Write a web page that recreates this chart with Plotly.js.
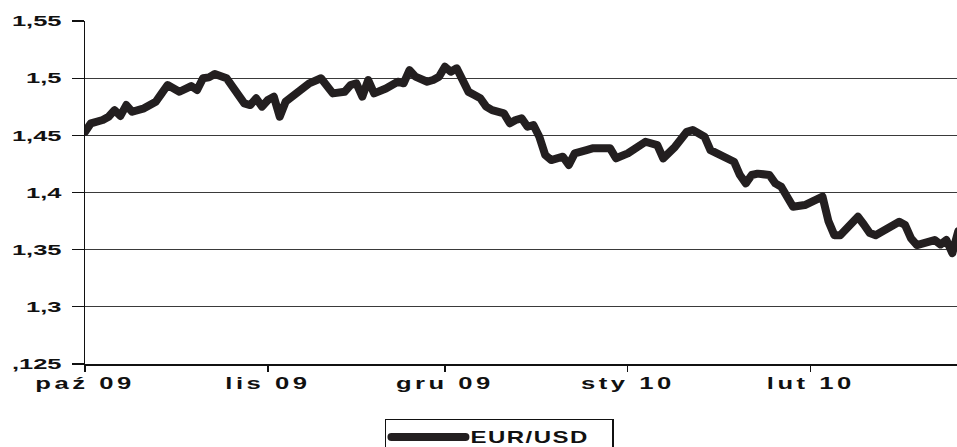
<!DOCTYPE html>
<html>
<head>
<meta charset="utf-8">
<script src="https://cdn.plot.ly/plotly-3.0.1.min.js"></script>
<style>
  html, body { margin: 0; padding: 0; background: #fff; }
  #chart { width: 957px; height: 447px; }
  .xtick text { letter-spacing: 2.2px; }
  .legendtext { letter-spacing: 1px; }
  .scatterlayer .js-line { stroke-linejoin: round; stroke-linecap: round; }
  .legendlines path { stroke-linecap: round; }
</style>
</head>
<body>
<div id="chart"></div>
<script>
// EUR/USD daily rate, Oct 2009 - Feb 2010
const dates = [
  "2009-10-01","2009-10-02","2009-10-04","2009-10-05","2009-10-06","2009-10-07","2009-10-08","2009-10-09",
  "2009-10-11","2009-10-13","2009-10-14","2009-10-15","2009-10-17","2009-10-18","2009-10-19","2009-10-20",
  "2009-10-21","2009-10-22","2009-10-23","2009-10-25","2009-10-26","2009-10-27","2009-10-28","2009-10-29",
  "2009-10-30","2009-10-31","2009-11-01","2009-11-02","2009-11-03","2009-11-04","2009-11-05","2009-11-06",
  "2009-11-08","2009-11-10","2009-11-11","2009-11-12","2009-11-14","2009-11-15","2009-11-16","2009-11-17",
  "2009-11-18","2009-11-19","2009-11-21","2009-11-22","2009-11-23","2009-11-24","2009-11-25","2009-11-26",
  "2009-11-28","2009-11-29","2009-11-30","2009-12-01","2009-12-02","2009-12-03","2009-12-04","2009-12-05",
  "2009-12-06","2009-12-07","2009-12-08","2009-12-09","2009-12-11","2009-12-12","2009-12-13","2009-12-14",
  "2009-12-15","2009-12-16","2009-12-17","2009-12-18","2009-12-19","2009-12-20","2009-12-21","2009-12-22",
  "2009-12-23","2009-12-25","2009-12-26","2009-12-29","2009-12-30","2010-01-01","2010-01-03","2010-01-04",
  "2010-01-06","2010-01-07","2010-01-09","2010-01-11","2010-01-12","2010-01-14","2010-01-15","2010-01-17",
  "2010-01-19","2010-01-20","2010-01-21","2010-01-22","2010-01-23","2010-01-25","2010-01-26","2010-01-27",
  "2010-01-28","2010-01-29","2010-01-31","2010-02-01","2010-02-02","2010-02-03","2010-02-04","2010-02-05",
  "2010-02-06","2010-02-07","2010-02-09","2010-02-10","2010-02-11","2010-02-12","2010-02-14","2010-02-16",
  "2010-02-17","2010-02-18","2010-02-19","2010-02-20","2010-02-21","2010-02-22","2010-02-23","2010-02-24",
  "2010-02-25","2010-02-26"
];
const eurusd = [
  1.453,1.4605,1.4634,1.4663,1.472,1.467,1.4765,1.4706,
  1.4736,1.4794,1.4867,1.494,1.4881,1.491,1.4931,1.4896,
  1.4999,1.5007,1.5036,1.4999,1.4925,1.4867,1.478,1.4765,
  1.4824,1.4751,1.4809,1.4838,1.4663,1.4794,1.4838,1.4867,
  1.4955,1.4999,1.494,1.4867,1.4881,1.494,1.4955,1.4838,
  1.4984,1.4867,1.491,1.494,1.4969,1.4955,1.5071,1.5013,
  1.4969,1.4984,1.5013,1.51,1.5056,1.5086,1.499,1.488,
  1.4852,1.4824,1.4751,1.472,1.4692,1.4605,1.4634,1.4649,
  1.4575,1.459,1.4488,1.4328,1.4284,1.4299,1.4313,1.424,
  1.4342,1.4371,1.4386,1.4386,1.4299,1.4342,1.4415,1.4444,
  1.4415,1.4299,1.44,1.4531,1.4546,1.4488,1.4371,1.4328,
  1.4269,1.4153,1.408,1.4153,1.4165,1.4153,1.408,1.405,
  1.3963,1.3875,1.389,1.3919,1.3945,1.3963,1.375,1.3627,
  1.3627,1.3686,1.3788,1.372,1.3645,1.3627,1.3686,1.3744,
  1.3715,1.3599,1.354,1.3555,1.3565,1.3584,1.3545,1.3584,
  1.347,1.366
];
const seriesName = "EUR/USD";
const xTickVals = ["2009-10-01","2009-11-01","2009-12-01","2010-01-01","2010-02-01"];
const xTickText = ["paź 09","lis 09","gru 09","sty 10","lut 10"];
const yTickVals = [1.25,1.3,1.35,1.4,1.45,1.5,1.55];
const yTickText = [",125","1,3","1,35","1,4","1,45","1,5","1,55"];

const trace = {
  type: "scatter", mode: "lines", name: seriesName,
  x: dates, y: eurusd,
  line: { color: "#231f20", width: 8 },
  showlegend: true, hoverinfo: "skip"
};

const layout = {
  width: 957, height: 447,
  margin: { l: 85, r: 0, t: 21, b: 83, pad: 0, autoexpand: false },
  paper_bgcolor: "#ffffff", plot_bgcolor: "#ffffff",
  showlegend: true,
  font: { family: "Liberation Sans, Arial, sans-serif", color: "#111" },
  xaxis: {
    type: "date",
    range: ["2009-10-01", "2010-02-25 19:00"],
    tickmode: "array", tickvals: xTickVals, ticktext: xTickText,
    ticks: "outside", ticklen: 6, tickwidth: 1.2, tickcolor: "#111",
    showline: true, linecolor: "#111", linewidth: 1.5,
    showgrid: false, zeroline: false,
    tickfont: { size: 16, weight: "bold", color: "#111" },
    ticklabelstandoff: -2
  },
  yaxis: {
    range: [1.25, 1.55],
    tickmode: "array", tickvals: yTickVals, ticktext: yTickText,
    ticks: "outside", ticklen: 12, tickwidth: 1.2, tickcolor: "#111",
    showline: true, linecolor: "#111", linewidth: 1.5,
    showgrid: true, gridcolor: "#3a3a3a", gridwidth: 1.2,
    zeroline: false,
    tickfont: { size: 15, weight: "bold", color: "#111" },
    ticklabelstandoff: 7
  },
  legend: {
    orientation: "h",
    x: 0.344, xanchor: "left", xref: "paper",
    y: -0.159, yanchor: "top", yref: "paper",
    bordercolor: "#111", borderwidth: 1.5, bgcolor: "#fff",
    font: { size: 16, weight: "bold", color: "#111" },
    itemwidth: 74,
    entrywidth: 137, entrywidthmode: "pixels"
  }
};

function stretch(sel, sx) {
  document.querySelectorAll(sel).forEach(function (t) {
    const x = parseFloat(t.getAttribute("x")) || 0;
    const y = parseFloat(t.getAttribute("y")) || 0;
    const tr = t.getAttribute("transform") || "";
    t.setAttribute("transform", tr + " translate(" + x + "," + y + ") scale(" + sx + ",1) translate(" + (-x) + "," + (-y) + ")");
  });
}

Plotly.newPlot("chart", [trace], layout, { staticPlot: true, displayModeBar: false, responsive: false })
  .then(function () {
    stretch(".xtick text", 1.6);
    stretch(".ytick text", 1.7);
    stretch(".legendtext", 1.5);
  });
</script>
</body>
</html>
